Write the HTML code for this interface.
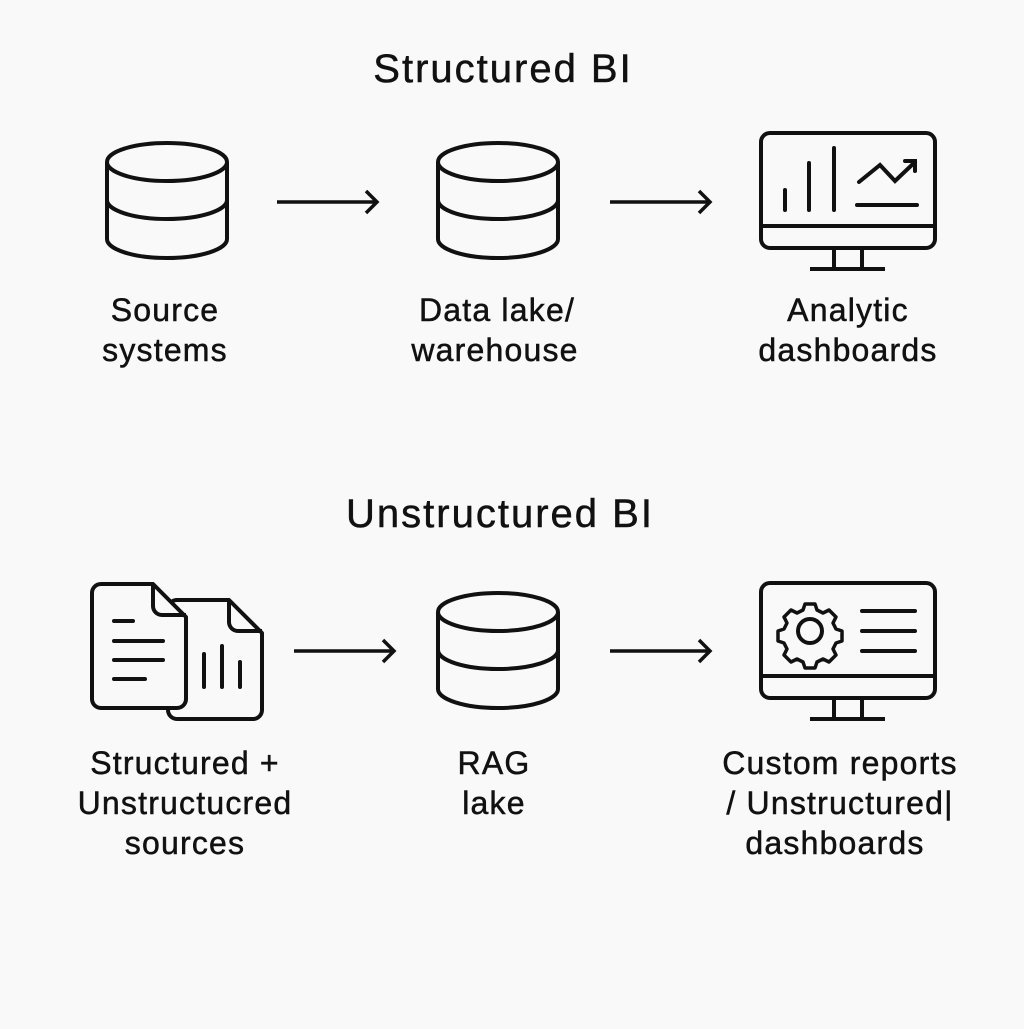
<!DOCTYPE html>
<html><head><style>
body{margin:0;background:#f9f9f9}
svg text{font-family:"Liberation Sans","DejaVu Sans",sans-serif;fill:#111;text-anchor:middle;stroke:#111;stroke-width:0.5}
.lb text{letter-spacing:1.2px}
.tt{letter-spacing:2px}
</style></head><body>
<svg width="1024" height="1024" viewBox="0 0 1024 1024" xmlns="http://www.w3.org/2000/svg">
<rect width="1024" height="1024" fill="#f9f9f9"/>
<defs>
<g id="cyl" fill="none" stroke="#111" stroke-width="4">
<ellipse cx="0" cy="0" rx="60" ry="19"/>
<path d="M-60 0 V77 A60 19 0 0 0 60 77 V0"/>
<path d="M-60 38 A60 19 0 0 0 60 38"/>
</g>
<g id="arr" fill="none" stroke="#111" stroke-width="3.5">
<path d="M0 0 H100 M89 -11 L100 0 L89 11"/>
</g>
<g id="mon" fill="none" stroke="#111" stroke-width="4">
<rect x="761" y="0" width="174" height="115" rx="9"/>
<path d="M761 93 H935 M834 115 V135 M862 115 V135 M810 136 H885"/>
</g>
</defs>
<text class="tt" x="503" y="82" font-size="40">Structured BI</text>
<use href="#cyl" x="167" y="162"/>
<use href="#cyl" x="498" y="162"/>
<use href="#arr" x="277" y="202"/>
<use href="#arr" x="610" y="202"/>
<use href="#mon" x="0" y="133"/>
<g fill="none" stroke="#111" stroke-width="4" stroke-linecap="round">
<path d="M785 190V210M809 163V210M834 148V210M857 205H917"/>
<path d="M859 182L880 165L895 181L915 162M905 161H915V171"/>
</g>
<g class="lb" font-size="32">
<text x="165" y="321">Source</text><text x="165" y="361">systems</text>
<text x="497" y="321">Data lake/</text><text x="495" y="361">warehouse</text>
<text x="848" y="321">Analytic</text><text x="848" y="361">dashboards</text>
</g>

<text class="tt" x="500" y="527" font-size="40">Unstructured BI</text>
<g fill="#f9f9f9" stroke="#111" stroke-width="4" stroke-linejoin="round">
<path d="M176 600 H229 L262 633 V710 a9 9 0 0 1 -9 9 H177 a9 9 0 0 1 -9 -9 V609 a9 9 0 0 1 9 -9Z"/>
<path d="M229 600 V622 a9 9 0 0 0 9 9 H262" fill="none"/>
<path d="M101 584 H153 L186 617 V699 a9 9 0 0 1 -9 9 H101 a9 9 0 0 1 -9 -9 V593 a9 9 0 0 1 9 -9Z"/>
<path d="M153 584 V606 a9 9 0 0 0 9 9 H186" fill="none"/>
</g>
<g stroke="#111" stroke-width="4" stroke-linecap="round" fill="none">
<path d="M114 621H133M114 641H163M114 660H163M114 679H145"/>
<path d="M204 654V687M222 646V687M240 662V687"/>
</g>
<use href="#cyl" x="498" y="612"/>
<use href="#arr" x="294" y="651"/>
<use href="#arr" x="610" y="651"/>
<use href="#mon" x="0" y="583"/>
<g fill="none" stroke="#111" stroke-width="4" stroke-linecap="round">
<circle cx="810" cy="631" r="12"/>
<path d="M805 604 h10 l2 6 l6 3 l6-3 l7 7 l-3 6 l3 6 l6 2 v10 l-6 2 l-3 6 l3 6 l-7 7 l-6-3 l-6 3 l-2 6 h-10 l-2-6 l-6-3 l-6 3 l-7-7 l3-6 l-3-6 l-6-2 v-10 l6-2 l3-6 l-3-6 l7-7 l6 3 l6-3z" stroke-width="3.5" stroke-linejoin="round"/>
<path d="M862 611H915M862 631H915M862 651H915"/>
</g>
<g class="lb" font-size="32">
<text x="185" y="774">Structured +</text><text x="185" y="814">Unstructucred</text><text x="185" y="854">sources</text>
<text x="494" y="774">RAG</text><text x="494" y="814">lake</text>
<text x="840" y="774">Custom reports</text><text x="840" y="814">/ Unstructured|</text><text x="835" y="854">dashboards</text>
</g>
</svg>
</body></html>
